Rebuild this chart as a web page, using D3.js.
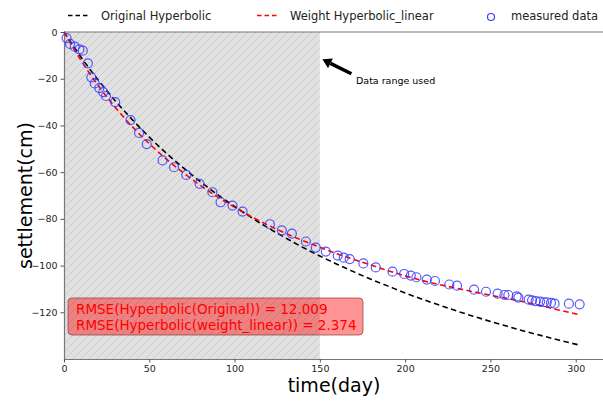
<!DOCTYPE html>
<html>
<head>
<meta charset="utf-8">
<script src="https://cdn.jsdelivr.net/npm/d3@7"></script>
<style>
  body { margin: 0; background: #fff; }
  svg text { font-family: "DejaVu Sans", sans-serif; }
</style>
</head>
<body>
<div id="chart"></div>
<script>
// measured settlement (day, cm)
const measuredDays = [1.5, 3.5, 6.3, 9, 11, 14, 16, 18, 20.7, 23, 24.6, 30, 39, 44, 48.5, 57.8, 64.5, 71.7, 79.5, 87, 91.8, 98.8, 104.7, 120.7, 127.7, 133.6, 141.8, 147.6, 153.5, 160.5, 164, 167.5, 175.5, 182.8, 192.6, 199.4, 203.3, 206.6, 212.7, 217.5, 225.9, 230.4, 240.4, 247.4, 254.2, 258.2, 260.5, 265.4, 266.4, 272.4, 274.4, 276.5, 279.1, 281.4, 283, 285.5, 287.6, 296, 302.3];
const measuredSettle = [-2.6, -5.1, -6.3, -7.4, -8.0, -13.4, -19.4, -22, -24, -25.7, -27.4, -30, -37.7, -43.2, -48, -55, -57.9, -61.2, -65, -68.6, -72.9, -74.3, -76.9, -82.3, -84.9, -86.3, -89.7, -92.3, -94, -95.7, -96.6, -97.2, -99.1, -100.8, -102.6, -103.6, -104.3, -105, -106, -106.6, -108.1, -108.6, -110.3, -111.2, -112, -112.6, -112.6, -113.2, -113.7, -114.6, -114.9, -115.2, -115.4, -115.7, -115.7, -116, -116.3, -116.3, -116.6];

// fitted curves
const curveDays = [0, 5, 10, 20, 30, 40, 50, 60, 70, 80, 90, 100, 110, 120, 130, 140, 150, 160, 170, 180, 190, 200, 210, 220, 230, 240, 250, 260, 270, 280, 290, 302];
const originalHyp = [0, -5.5, -10.8, -20.5, -29.4, -37.5, -45.0, -51.9, -58.2, -64.1, -69.6, -74.7, -79.5, -84.0, -88.2, -92.2, -95.9, -99.4, -102.7, -105.9, -108.8, -111.7, -114.4, -116.9, -119.4, -121.7, -123.9, -126.0, -128.1, -130.0, -131.9, -134.0];
const weightHyp = [0, -6.3, -12.2, -22.9, -32.2, -40.5, -47.8, -54.4, -60.3, -65.7, -70.6, -75.0, -79.1, -82.8, -86.2, -89.3, -92.2, -94.9, -97.4, -99.8, -102.2, -104.4, -106.4, -108.1, -109.7, -111.2, -112.7, -114.1, -115.6, -117.3, -119.0, -121.0];

const xTicks = [0, 50, 100, 150, 200, 250, 300];
const yTicks = [0, -20, -40, -60, -80, -100, -120];
const usedRange = [0, 150];
const rmseLines = ["RMSE(Hyperbolic(Original)) = 12.009", "RMSE(Hyperbolic(weight_linear)) = 2.374"];

const width = 603, height = 403;
const margin = { top: 32, right: 0, bottom: 44, left: 64 };

const svg = d3.select("#chart")
  .append("svg")
    .attr("width", width)
    .attr("height", height);

const x = d3.scaleLinear().domain([0, 316]).range([margin.left, width - margin.right]);
const y = d3.scaleLinear().domain([-140, 0]).range([height - margin.bottom, margin.top]);

// hatch pattern for the data range
const defs = svg.append("defs");
const pat = defs.append("pattern")
    .attr("id", "hatch")
    .attr("patternUnits", "userSpaceOnUse")
    .attr("width", 8)
    .attr("height", 8);
pat.append("rect").attr("width", 8).attr("height", 8).attr("fill", "#e1e1e1");
pat.append("path")
    .attr("d", "M-2,2 L2,-2 M0,8 L8,0 M6,10 L10,6")
    .attr("stroke", "#c9c9c9")
    .attr("stroke-width", 1);

svg.append("rect")
    .attr("x", x(usedRange[0]))
    .attr("y", y(0))
    .attr("width", x(usedRange[1]) - x(usedRange[0]))
    .attr("height", y(-140) - y(0))
    .attr("fill", "url(#hatch)");

// axes
const xAxis = svg.append("g")
    .attr("transform", `translate(0,${y(-140)})`)
    .call(d3.axisBottom(x).tickValues(xTicks).tickSize(3.5).tickPadding(3).tickSizeOuter(0));
const yAxis = svg.append("g")
    .attr("transform", `translate(${x(0)},0)`)
    .call(d3.axisLeft(y).tickValues(yTicks).tickSize(3.5).tickPadding(3).tickSizeOuter(0)
      .tickFormat(d => d < 0 ? "\u2212" + Math.abs(d) : d));
[xAxis, yAxis].forEach(g => {
  g.selectAll("text").attr("font-size", 9.5).attr("fill", "#262626").attr("font-family", "DejaVu Sans");
  g.selectAll("line").attr("stroke", "#555");
  g.select(".domain").attr("stroke", "#777").attr("stroke-width", 1.2);
});
// top spine
svg.append("line")
    .attr("x1", x(0)).attr("x2", width)
    .attr("y1", y(0)).attr("y2", y(0))
    .attr("stroke", "#777").attr("stroke-width", 1.2);

// fitted lines
const line = (vals) => d3.line()
    .x((d, i) => x(curveDays[i]))
    .y(d => y(d))
    .curve(d3.curveMonotoneX)(vals);

svg.append("path")
    .attr("d", line(originalHyp))
    .attr("fill", "none")
    .attr("stroke", "#000")
    .attr("stroke-width", 1.6)
    .attr("stroke-dasharray", "5.5,3.5");

svg.append("path")
    .attr("d", line(weightHyp))
    .attr("fill", "none")
    .attr("stroke", "#ff0000")
    .attr("stroke-width", 1.6)
    .attr("stroke-dasharray", "5.5,3.5");

// measured data
svg.append("g")
  .selectAll("circle")
  .data(measuredDays)
  .join("circle")
    .attr("cx", d => x(d))
    .attr("cy", (d, i) => y(measuredSettle[i]))
    .attr("r", 4.5)
    .attr("fill", "none")
    .attr("stroke", "#3b3bff")
    .attr("stroke-opacity", 0.85)
    .attr("stroke-width", 1.2);

// RMSE box
const box = svg.append("g");
box.append("rect")
    .attr("x", 68).attr("y", 298)
    .attr("width", 295).attr("height", 37)
    .attr("rx", 4)
    .attr("fill", "rgba(255,0,0,0.42)")
    .attr("stroke", "rgba(140,60,60,0.7)")
    .attr("stroke-width", 1);
box.selectAll("text")
  .data(rmseLines)
  .join("text")
    .attr("x", 76)
    .attr("y", (d, i) => 314 + i * 16)
    .attr("font-size", 13.5)
    .attr("fill", "#ff0000")
    .text(d => d);

// annotation arrow
const tip = [x(151.5), y(-11.7)];
const tail = [x(168.5), y(-17.9)];
const ang = Math.atan2(tail[1] - tip[1], tail[0] - tip[0]);
const headLen = 9, headW = 5.5;
const base = [tip[0] + headLen * Math.cos(ang), tip[1] + headLen * Math.sin(ang)];
svg.append("line")
    .attr("x1", base[0]).attr("y1", base[1])
    .attr("x2", tail[0]).attr("y2", tail[1])
    .attr("stroke", "#000").attr("stroke-width", 3.5);
svg.append("polygon")
    .attr("points", [
      tip,
      [base[0] - headW * Math.sin(ang), base[1] + headW * Math.cos(ang)],
      [base[0] + headW * Math.sin(ang), base[1] - headW * Math.cos(ang)]
    ].map(p => p.join(",")).join(" "))
    .attr("fill", "#000");
svg.append("text")
    .attr("x", x(171.2))
    .attr("y", y(-22.3))
    .attr("font-size", 9.5)
    .attr("fill", "#000")
    .text("Data range used");

// axis labels
svg.append("text")
    .attr("x", 334)
    .attr("y", 392)
    .attr("text-anchor", "middle")
    .attr("font-size", 19)
    .attr("fill", "#000")
    .text("time(day)");
svg.append("text")
    .attr("transform", `translate(32,${(y(0) + y(-140)) / 2}) rotate(-90)`)
    .attr("text-anchor", "middle")
    .attr("font-size", 19)
    .attr("fill", "#000")
    .text("settlement(cm)");

// legend
const legend = svg.append("g");
const items = [
  { label: "Original Hyperbolic", type: "line", color: "#000", x0: 68, tx: 101 },
  { label: "Weight Hyperbolic_linear", type: "line", color: "#ff0000", x0: 257, tx: 290 },
  { label: "measured data", type: "circle", color: "#3b3bff", x0: 486, tx: 511 }
];
items.forEach(it => {
  if (it.type === "line") {
    legend.append("line")
        .attr("x1", it.x0).attr("x2", it.x0 + 22)
        .attr("y1", 15.5).attr("y2", 15.5)
        .attr("stroke", it.color)
        .attr("stroke-width", 1.6)
        .attr("stroke-dasharray", "4.5,3");
  } else {
    legend.append("circle")
        .attr("cx", it.x0 + 5).attr("cy", 17)
        .attr("r", 3.5)
        .attr("fill", "none")
        .attr("stroke", it.color)
        .attr("stroke-width", 1.2);
  }
  legend.append("text")
      .attr("x", it.tx)
      .attr("y", 20)
      .attr("font-size", 11.5)
      .attr("fill", "#222")
      .text(it.label);
});
</script>
</body>
</html>
